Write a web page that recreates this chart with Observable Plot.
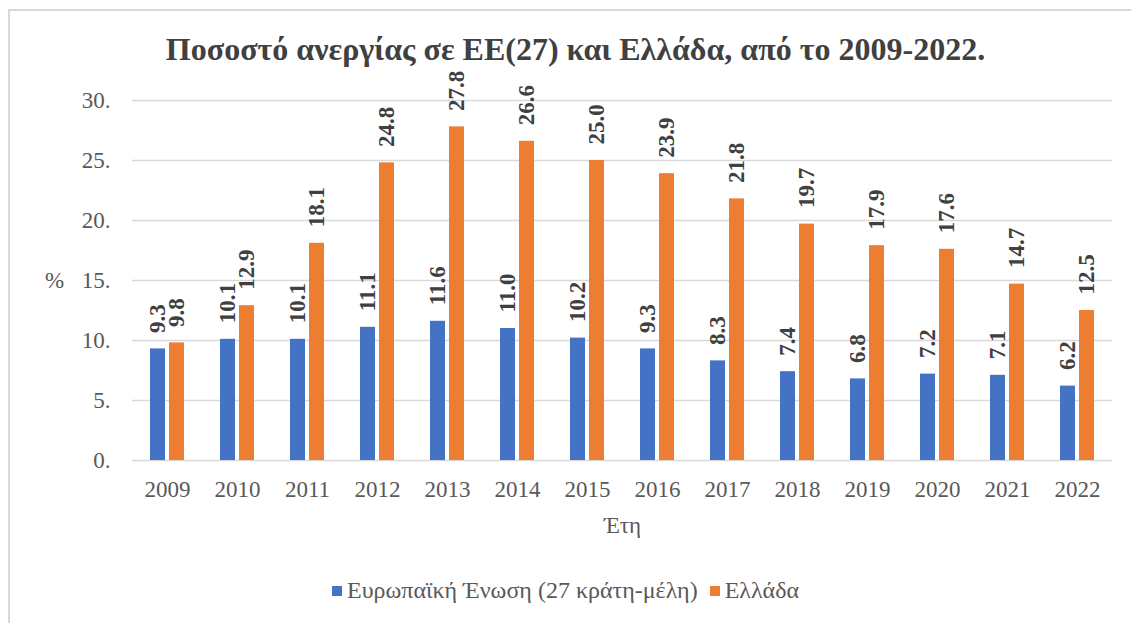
<!DOCTYPE html>
<html><head><meta charset="utf-8">
<script src="https://cdn.jsdelivr.net/npm/d3@7"></script>
<script src="https://cdn.jsdelivr.net/npm/@observablehq/plot@0.6"></script>
<style>
body{margin:0;background:#fff;}
#wrap{position:relative;width:1131px;height:623px;overflow:hidden;font-family:"Liberation Serif","Times New Roman",serif;background:#fff;}
#frame{position:absolute;left:8px;top:9px;width:1200px;height:700px;border-left:2px solid #d9d9d9;border-top:2px solid #d9d9d9;}
#title{position:absolute;left:10px;width:1131px;top:29px;text-align:center;font-weight:bold;font-size:32px;color:#404040;line-height:40px;font-family:"Liberation Serif","Times New Roman",serif;}
#chart{position:absolute;left:0;top:72px;}
#ylab{position:absolute;left:45px;top:268px;font-size:23px;color:#595959;}
#legend{position:absolute;left:0;width:1131px;top:577px;display:flex;justify-content:center;gap:12px;font-size:24px;color:#595959;font-family:"Liberation Serif","Times New Roman",serif;}
#legend .it{display:flex;align-items:center;}
#legend .sw{width:10px;height:10px;margin-right:5px;}
</style>
</head><body>
<div id="wrap">
<div id="frame"></div>
<div id="title">Ποσοστό ανεργίας σε ΕΕ(27) και Ελλάδα, από το 2009-2022.</div>
<div id="chart"></div>
<div id="ylab">%</div>
<div id="legend"></div>
</div>
<script>
const years = ["2009","2010","2011","2012","2013","2014","2015","2016","2017","2018","2019","2020","2021","2022"];
const euValues = [9.3,10.1,10.1,11.1,11.6,11.0,10.2,9.3,8.3,7.4,6.8,7.2,7.1,6.2];
const grValues = [9.8,12.9,18.1,24.8,27.8,26.6,25.0,23.9,21.8,19.7,17.9,17.6,14.7,12.5];
const seriesNames = ["Ευρωπαϊκή Ένωση (27 κράτη-μέλη)","Ελλάδα"];
const seriesColors = ["#4472C4","#ED7D31"];
const yTicks = [0,5,10,15,20,25,30];
const xLabel = "Έτη";

const data = years.flatMap((yr,i)=>[
  {year:yr, series:seriesNames[0], value:euValues[i]},
  {year:yr, series:seriesNames[1], value:grValues[i]}
]);

const chart = Plot.plot({
  width:1131, height:463,
  marginTop:28, marginBottom:75, marginLeft:130, marginRight:18,
  style:{fontFamily:"'Liberation Serif','Times New Roman',serif", fontSize:"23px", color:"#595959", background:"transparent", overflow:"visible"},
  fx:{domain:years, padding:0, label:xLabel, labelAnchor:"center", axis:"bottom", tickSize:0, tickPadding:20},
  x:{domain:seriesNames, paddingInner:0.22, paddingOuter:0.865, axis:null},
  y:{domain:[0,30], ticks:yTicks, tickFormat:d=>d+".", tickSize:0, tickPadding:22, label:null},
  color:{domain:seriesNames, range:seriesColors},
  marks:[
    Plot.ruleY(yTicks,{stroke:"#d9d9d9", strokeWidth:1.5}),
    Plot.barY(data,{fx:"year", x:"series", y:"value", fill:"series"}),
    Plot.text(data,{fx:"year", x:"series", y:"value", text:d=>d.value.toFixed(1), rotate:-90, textAnchor:"start", dy:-16, fontWeight:"bold", fill:"#404040", fontSize:23, fontFamily:"'Liberation Serif','Times New Roman',serif"})
  ]
});
document.getElementById("chart").appendChild(chart);

const legend = document.getElementById("legend");
seriesNames.forEach((n,i)=>{
  const it = document.createElement("div"); it.className="it";
  const sw = document.createElement("div"); sw.className="sw"; sw.style.background=seriesColors[i];
  const t = document.createElement("span"); t.textContent=n;
  it.appendChild(sw); it.appendChild(t); legend.appendChild(it);
});
</script>
</body></html>
